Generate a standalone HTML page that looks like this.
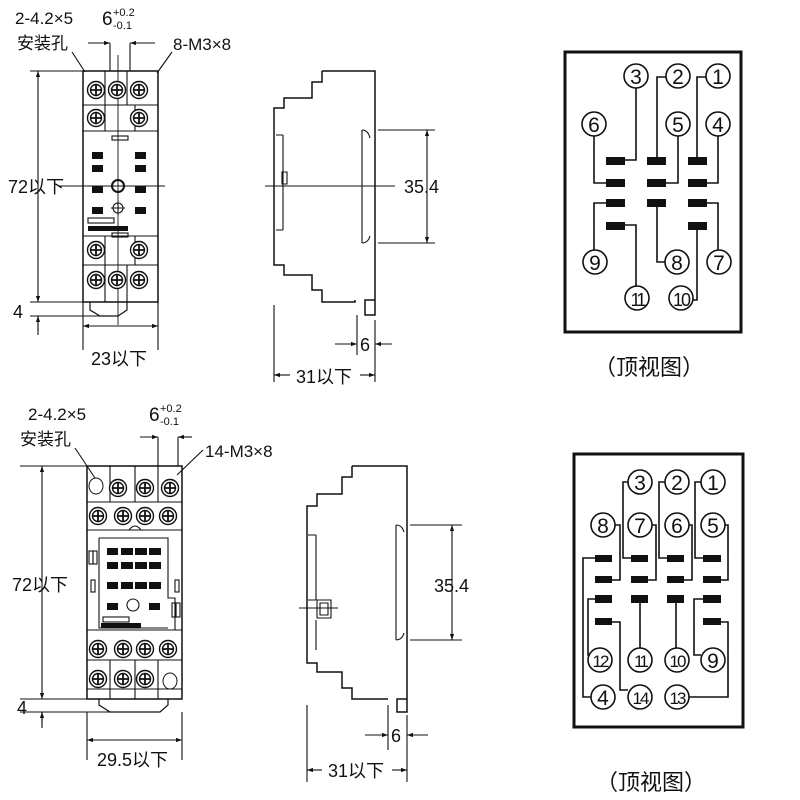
<!DOCTYPE html>
<html><head><meta charset="utf-8"><style>
html,body{margin:0;padding:0;background:#fff}
svg{display:block}
text{font-family:"Liberation Sans","Noto Sans CJK SC",sans-serif;fill:#111}
</style></head><body>
<svg width="800" height="800" viewBox="0 0 800 800" xmlns="http://www.w3.org/2000/svg">
<defs>
<g id="sc"><circle r="8.5" fill="#fff" stroke="#111" stroke-width="1.4"/><circle r="5.5" fill="none" stroke="#111" stroke-width="1.4"/><path d="M-5,0H5M0,-5V5" stroke="#111" stroke-width="1.8"/></g>
<marker id="ar" viewBox="0 0 10 10" refX="10" refY="5" markerWidth="11" markerHeight="6" markerUnits="userSpaceOnUse" orient="auto-start-reverse"><path d="M0,1.5L10,5L0,8.5z" fill="#111"/></marker>
</defs>
<g stroke="#111" stroke-width="1.1" fill="none">
<!-- ===== TOP FRONT ===== -->
<rect x="83" y="71" width="75" height="231" stroke-width="1.5"/>
<path d="M83,105H158M83,131H158M83,236H158M83,265H158M105,71V105M127,71V105M105,265V302M127,265V302M105,105V131M135,105V131M105,236V265M135,236V265"/>
<path d="M90,302V310L100,316H118L127,310V302" stroke-width="1.2"/>
<rect x="112" y="136" width="16" height="4"/><rect x="112" y="233" width="16" height="4"/>
<rect x="88" y="218" width="26" height="5"/>
<path d="M118,55V325M60,186H165M265,186H395" stroke-width="0.9"/>
<circle cx="118" cy="186" r="6" stroke-width="2"/>
<circle cx="118" cy="208" r="5"/><path d="M111,208H125M118,201V215"/>
<!-- dims top front -->
<path d="M30,71H83M30,302H83M30,316H105"/>
<path d="M38,71V302" marker-start="url(#ar)" marker-end="url(#ar)"/>
<path d="M38,316V335"/>
<path d="M38,316V330" marker-start="url(#ar)"/>
<path d="M83,302V350M158,302V350"/>
<path d="M83,326H158" marker-start="url(#ar)" marker-end="url(#ar)"/>
<path d="M110,43V71M130,43V71"/>
<path d="M88,43H110" marker-end="url(#ar)"/><path d="M155,43H130" marker-end="url(#ar)"/>
<path d="M72,52L85,72M172,52L157,73"/>
<!-- ===== TOP SIDE ===== -->
<path d="M322,71H375V300H365V315H375V300M322,71V82H312V98H284V108H274V265H284V275H312V290H322V302H355V300" stroke-width="1.5"/>
<path d="M283,135V230M276,135H283M276,230H283M362,130V243M362,130Q368,130 370,138M362,243Q368,243 370,236"/>
<path d="M282,172h5v12h-5z"/>
<path d="M378,130H435M378,243H435"/>
<path d="M427,130V243" marker-start="url(#ar)" marker-end="url(#ar)"/>
<path d="M274,305V382M375,320V382M357,315V355"/>
<path d="M335,344H357" marker-end="url(#ar)"/><path d="M392,344H375" marker-end="url(#ar)"/>
<path d="M290,375H274" marker-end="url(#ar)"/><path d="M360,375H375" marker-end="url(#ar)"/>
<!-- ===== TOP PINOUT ===== -->
<rect x="565" y="52" width="176" height="280" stroke-width="3"/>
<g stroke-width="1.6">
<path d="M625,160H636V88M657,157V77H666M697,157V77H706M594,136V183H606M678,136V183H666M718,136V183H707M606,203H594V250M657,207V262H665M707,203H718V250M625,225H636V286M697,229V300H693"/>
<circle cx="636" cy="76" r="12"/><circle cx="678" cy="76" r="12"/><circle cx="718" cy="76" r="12"/>
<circle cx="594" cy="124" r="12"/><circle cx="678" cy="124" r="12"/><circle cx="718" cy="124" r="12"/>
<circle cx="595" cy="262" r="12"/><circle cx="677" cy="262" r="12"/><circle cx="719" cy="262" r="12"/>
<circle cx="637" cy="298" r="12"/><circle cx="681" cy="298" r="12"/>
</g>
<!-- ===== BOTTOM FRONT ===== -->
<rect x="87" y="466" width="95" height="233" stroke-width="1.5"/>
<path d="M87,502H182M87,530H182M87,630H182M87,660H182M87,689H182M110,466V502M135,466V502M158,466V502M110,660V699M135,660V699M158,660V699"/>
<path d="M99,699V705L110,712H160L168,705V699" stroke-width="1.2"/>
<path d="M99,538H168V598H175V630M99,538V628H168"/>
<rect x="93" y="551" width="4" height="13"/><rect x="89" y="551" width="4" height="13"/><rect x="176" y="603" width="4" height="14"/><rect x="172" y="603" width="4" height="14"/>
<rect x="91" y="580" width="4" height="12"/><rect x="175" y="580" width="4" height="12"/>
<rect x="103" y="617" width="26" height="5"/>
<circle cx="133" cy="605" r="6"/>
<path d="M129,530Q135,522 141,530"/>
<path d="M20,466H87M20,699H87M20,712H110"/>
<path d="M42,466V699" marker-start="url(#ar)" marker-end="url(#ar)"/>
<path d="M42,712V728"/><path d="M42,712V725" marker-start="url(#ar)"/>
<path d="M87,712V760M182,712V760"/>
<path d="M87,740H182" marker-start="url(#ar)" marker-end="url(#ar)"/>
<path d="M158,437V466M178,437V466"/>
<path d="M140,437H158" marker-end="url(#ar)"/><path d="M192,437H178" marker-end="url(#ar)"/>
<path d="M75,448L95,478M203,450L177,475"/>
<!-- ===== BOTTOM SIDE ===== -->
<path d="M352,466H407V699H397V712H407V699M352,466V477H342V494H317V506H307V663H317V672H342V688H352V699H388V699" stroke-width="1.5"/>
<path d="M316,535V600M308,535H316M308,600H316M316,620V650M396,525V640M396,525Q402,525 404,532M396,640Q402,640 404,633"/>
<path d="M299,608H338M317,600h14v18h-14zM320,603h8v12h-8z"/>
<path d="M410,525H462M410,640H462"/>
<path d="M452,525V640" marker-start="url(#ar)" marker-end="url(#ar)"/>
<path d="M307,705V782M407,715V782M388,705V750"/>
<path d="M365,735H388" marker-end="url(#ar)"/><path d="M428,735H407" marker-end="url(#ar)"/>
<path d="M322,770H307" marker-end="url(#ar)"/><path d="M392,770H407" marker-end="url(#ar)"/>
<!-- ===== BOTTOM PINOUT ===== -->
<rect x="574" y="454" width="169" height="273" stroke-width="3"/>
<g stroke-width="1.6">
<path d="M631,558H623V482H628M667,558H659V482H665M703,558H695V482H701M615,525H620V580H612M652,525H656V580H648M689,525H692V580H684M725,525H728V580H721M595,558H583V697H591M595,599H588V655H590M640,603V648M676,603V648M703,599H694V655H701M612,622H620V690H628M721,622H728V697H689"/>
<circle cx="640" cy="482" r="12"/><circle cx="677" cy="482" r="12"/><circle cx="713" cy="482" r="12"/>
<circle cx="603" cy="525" r="12"/><circle cx="640" cy="525" r="12"/><circle cx="677" cy="525" r="12"/><circle cx="713" cy="525" r="12"/>
<circle cx="600" cy="660" r="12"/><circle cx="640" cy="660" r="12"/><circle cx="677" cy="660" r="12"/><circle cx="713" cy="660" r="12"/>
<circle cx="603" cy="697" r="12"/><circle cx="640" cy="697" r="12"/><circle cx="677" cy="697" r="12"/>
</g>
</g>
<!-- screws -->
<use href="#sc" x="96" y="90"/><use href="#sc" x="117" y="90"/><use href="#sc" x="139" y="90"/>
<use href="#sc" x="96" y="118"/><use href="#sc" x="139" y="118"/>
<use href="#sc" x="96" y="250"/><use href="#sc" x="139" y="250"/>
<use href="#sc" x="96" y="280"/><use href="#sc" x="117" y="280"/><use href="#sc" x="139" y="280"/>
<use href="#sc" x="118" y="488"/><use href="#sc" x="145" y="488"/><use href="#sc" x="170" y="488"/>
<use href="#sc" x="98" y="516"/><use href="#sc" x="123" y="516"/><use href="#sc" x="145" y="516"/><use href="#sc" x="168" y="516"/>
<use href="#sc" x="98" y="649"/><use href="#sc" x="123" y="649"/><use href="#sc" x="145" y="649"/><use href="#sc" x="168" y="649"/>
<use href="#sc" x="98" y="679"/><use href="#sc" x="123" y="679"/><use href="#sc" x="145" y="679"/>
<ellipse cx="96" cy="486" rx="7" ry="8" fill="none" stroke="#111"/><ellipse cx="170" cy="681" rx="7" ry="8" fill="none" stroke="#111"/>
<g fill="#111">
<rect x="92" y="152" width="11" height="7"/><rect x="135" y="152" width="11" height="7"/>
<rect x="92" y="165" width="11" height="7"/><rect x="135" y="165" width="11" height="7"/>
<rect x="92" y="186" width="11" height="7"/><rect x="135" y="186" width="11" height="7"/>
<rect x="92" y="207" width="11" height="7"/><rect x="135" y="207" width="11" height="7"/>
<rect x="88" y="226" width="40" height="5"/>
<rect x="107" y="548" width="11" height="7"/><rect x="121" y="548" width="12" height="7"/><rect x="135" y="548" width="12" height="7"/><rect x="149" y="548" width="12" height="7"/>
<rect x="107" y="562" width="11" height="7"/><rect x="121" y="562" width="12" height="7"/><rect x="135" y="562" width="12" height="7"/><rect x="149" y="562" width="12" height="7"/>
<rect x="107" y="582" width="11" height="7"/><rect x="121" y="582" width="12" height="7"/><rect x="135" y="582" width="12" height="7"/><rect x="149" y="582" width="12" height="7"/>
<rect x="107" y="603" width="11" height="7"/><rect x="149" y="603" width="11" height="7"/>
<rect x="101" y="623" width="40" height="5"/>
<rect x="606" y="157" width="19" height="8"/><rect x="647" y="157" width="19" height="8"/><rect x="688" y="157" width="19" height="8"/>
<rect x="606" y="179" width="19" height="8"/><rect x="647" y="179" width="19" height="8"/><rect x="688" y="179" width="19" height="8"/>
<rect x="606" y="199" width="19" height="8"/><rect x="647" y="199" width="19" height="8"/><rect x="688" y="199" width="19" height="8"/>
<rect x="606" y="222" width="19" height="8"/><rect x="688" y="222" width="19" height="8"/>
<rect x="595" y="555" width="17" height="7"/><rect x="631" y="555" width="17" height="7"/><rect x="667" y="555" width="17" height="7"/><rect x="703" y="555" width="18" height="7"/>
<rect x="595" y="576" width="17" height="7"/><rect x="631" y="576" width="17" height="7"/><rect x="667" y="576" width="17" height="7"/><rect x="703" y="576" width="18" height="7"/>
<rect x="595" y="595" width="17" height="8"/><rect x="631" y="595" width="17" height="8"/><rect x="667" y="595" width="17" height="8"/><rect x="703" y="595" width="18" height="8"/>
<rect x="595" y="618" width="17" height="7"/><rect x="703" y="618" width="18" height="7"/>
</g>
<!-- texts -->
<g font-size="17">
<text x="15" y="24">2-4.2×5</text><text x="17" y="49">安装孔</text>
<text x="102" y="25" font-size="19">6</text><text x="113" y="16" font-size="11">+0.2</text><text x="113" y="29" font-size="11">-0.1</text>
<text x="173" y="50">8-M3×8</text>
<text x="8" y="193" font-size="18">72以下</text>
<text x="13" y="318" font-size="18">4</text>
<text x="91" y="365" font-size="18">23以下</text>
<text x="404" y="193" font-size="18">35.4</text>
<text x="360" y="351" font-size="18">6</text>
<text x="296" y="383" font-size="18">31以下</text>
<text x="28" y="420">2-4.2×5</text><text x="20" y="445">安装孔</text>
<text x="149" y="421" font-size="19">6</text><text x="160" y="412" font-size="11">+0.2</text><text x="160" y="425" font-size="11">-0.1</text>
<text x="205" y="457">14-M3×8</text>
<text x="12" y="591" font-size="18">72以下</text>
<text x="17" y="714" font-size="18">4</text>
<text x="97" y="766" font-size="18">29.5以下</text>
<text x="434" y="592" font-size="18">35.4</text>
<text x="391" y="742" font-size="18">6</text>
<text x="328" y="777" font-size="18">31以下</text>
<text x="594" y="375" font-size="22" font-family="Liberation Serif,Noto Serif CJK SC,serif">（顶视图）</text>
<text x="596" y="790" font-size="22" font-family="Liberation Serif,Noto Serif CJK SC,serif">（顶视图）</text>
</g>
<g font-size="21" text-anchor="middle">
<text x="636" y="84">3</text><text x="678" y="84">2</text><text x="718" y="84">1</text>
<text x="594" y="132">6</text><text x="678" y="132">5</text><text x="718" y="132">4</text>
<text x="595" y="270">9</text><text x="677" y="270">8</text><text x="719" y="270">7</text>
<text x="637" y="306" font-size="18" letter-spacing="-3">11</text><text x="681" y="306" font-size="18" letter-spacing="-2">10</text>
<text x="640" y="490">3</text><text x="677" y="490">2</text><text x="713" y="490">1</text>
<text x="603" y="533">8</text><text x="640" y="533">7</text><text x="677" y="533">6</text><text x="713" y="533">5</text>
<text x="600" y="667" font-size="17" letter-spacing="-2">12</text><text x="640" y="667" font-size="17" letter-spacing="-3">11</text><text x="677" y="667" font-size="17" letter-spacing="-2">10</text><text x="713" y="668">9</text>
<text x="603" y="705">4</text><text x="640" y="704" font-size="17" letter-spacing="-2">14</text><text x="677" y="704" font-size="17" letter-spacing="-2">13</text>
</g>
</svg>
</body></html>
